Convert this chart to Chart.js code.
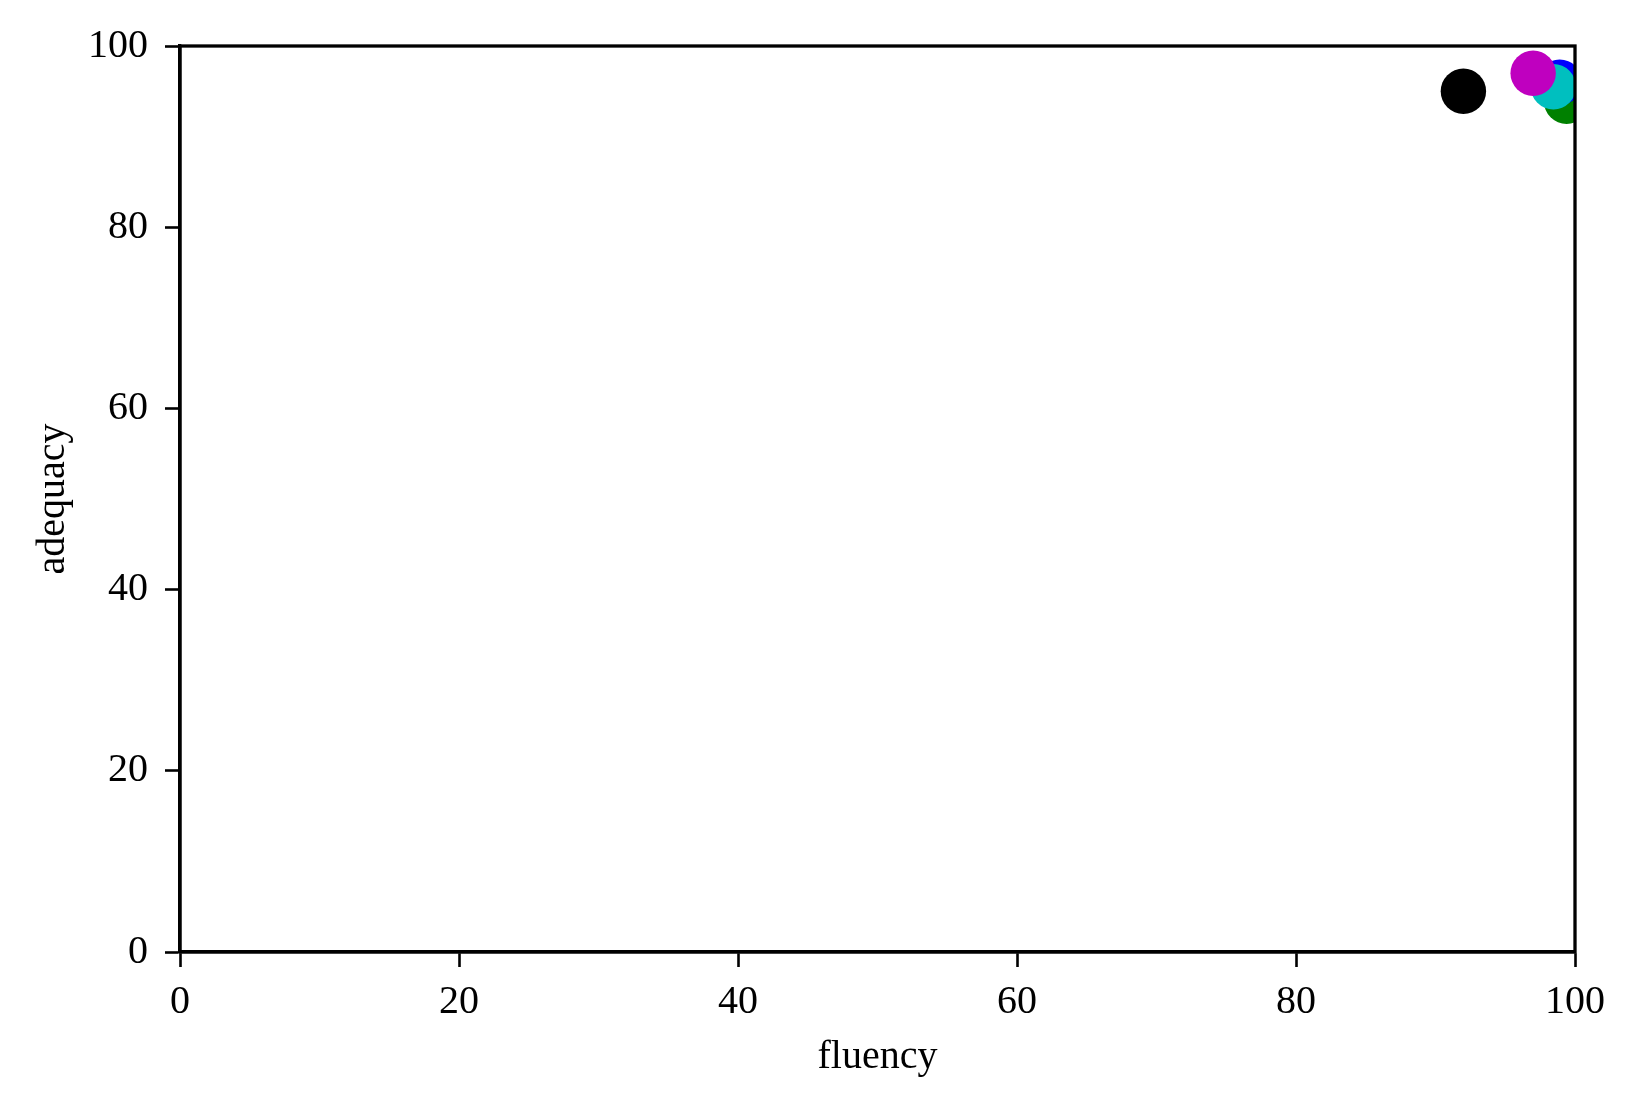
<!DOCTYPE html>
<html>
<head>
<meta charset="utf-8">
<script src="https://cdn.jsdelivr.net/npm/chart.js@4"></script>
<style>
  html, body { margin: 0; padding: 0; background: #fff; }
  #chart { display: block; }
</style>
</head>
<body>
<canvas id="chart" width="1636" height="1112"></canvas>
<script>
// one point per system; Chart.js paints the first dataset on top,
// so the topmost marker comes first
const systemColors = ['#bf00bf', '#00bfbf', '#0000ff', '#008000', '#000000'];
const fluency = [97.0, 98.45, 98.9, 99.4, 92.0];
const adequacy = [97.0, 95.5, 96.0, 93.9, 95.0];
const tickValues = [0, 20, 40, 60, 80, 100];

const FONT = '"Liberation Serif", "DejaVu Serif", serif';
const chartCanvas = document.getElementById('chart');

// box around the plot area, drawn over the points like matplotlib spines
const frame = {
  id: 'frame',
  afterDatasetsDraw(chart) {
    const { ctx, chartArea: a } = chart;
    ctx.save();
    ctx.strokeStyle = '#000';
    ctx.lineWidth = 3.3;
    ctx.strokeRect(a.left, a.top, a.right - a.left, a.bottom - a.top);
    ctx.restore();
  },
};

const datasets = fluency.map((f, i) => ({
  data: [{ x: f, y: adequacy[i] }],
  backgroundColor: systemColors[i],
  borderColor: systemColors[i],
  borderWidth: 0,
  pointRadius: 22.7,
  pointHoverRadius: 22.7,
}));

function axis(title, pos) {
  const bottom = pos === 'bottom';
  return {
    type: 'linear',
    position: pos,
    min: 0,
    max: 100,
    afterBuildTicks: (s) => { s.ticks = tickValues.map((v) => ({ value: v })); },
    border: { display: true, color: '#000', width: 3.3 },
    grid: {
      display: true,
      drawOnChartArea: false,
      drawTicks: true,
      tickLength: 15,
      tickWidth: 2.6,
      tickColor: '#000',
    },
    ticks: {
      color: '#000',
      font: { family: FONT, size: 40 },
      padding: bottom ? 11 : 17,
      maxRotation: 0,
    },
    title: {
      display: true,
      text: title,
      color: '#000',
      font: { family: FONT, size: 40 },
      padding: bottom ? { top: 0, bottom: 31 } : { top: 29, bottom: 0 },
    },
  };
}

const xAxis = axis('fluency', 'bottom');
xAxis.afterFit = (s) => { s.height = 160; };
const yAxis = axis('adequacy', 'left');
yAxis.afterFit = (s) => { s.width = 180; };

new Chart(chartCanvas, {
  type: 'scatter',
  data: { datasets },
  options: {
    responsive: false,
    animation: false,
    devicePixelRatio: 1,
    layout: { autoPadding: false, padding: { top: 46, right: 61, left: 0, bottom: 0 } },
    plugins: { legend: { display: false }, tooltip: { enabled: false } },
    scales: { x: xAxis, y: yAxis },
  },
  plugins: [frame],
});
</script>
</body>
</html>
